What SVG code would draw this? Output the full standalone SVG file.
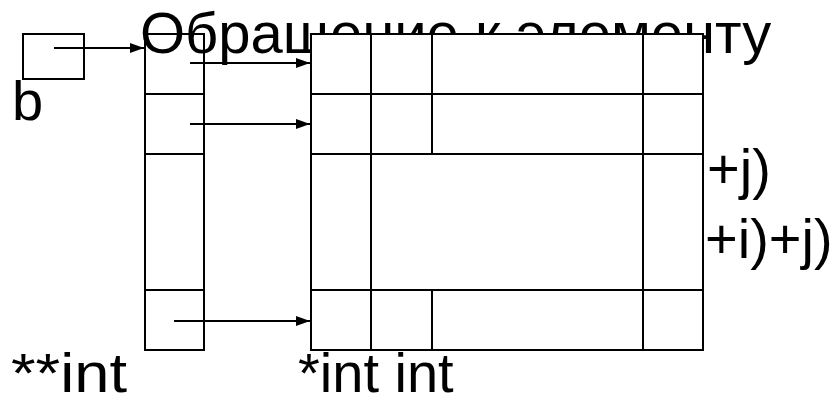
<svg xmlns="http://www.w3.org/2000/svg" width="836" height="396" viewBox="0 0 836 396">
<style>
.ln{stroke:#000;stroke-width:2;fill:none}
.cell{stroke:#000;stroke-width:2;fill:#fff}
.t{font-family:"Liberation Sans",Arial,sans-serif;font-size:56px;fill:#000}
</style>
<defs>
<marker id="ah" markerWidth="14" markerHeight="12" refX="14" refY="6" orient="auto" markerUnits="userSpaceOnUse">
<path d="M0,1 L14,6 L0,11 Z" fill="#000"/>
</marker>
</defs>
<rect width="836" height="396" fill="#fff"/>
<g id="pointer-b">
<rect class="cell" x="23" y="34" width="61" height="45"/>
</g>
<g id="row-pointers">
<rect class="ln" x="145" y="34" width="59" height="316"/>
<line class="ln" x1="145" y1="94" x2="204" y2="94"/>
<line class="ln" x1="145" y1="154" x2="204" y2="154"/>
<line class="ln" x1="145" y1="290" x2="204" y2="290"/>
</g>
<text class="t" x="140" y="53" style="font-size:58px">Обращение к элементу</text>
<g id="matrix">
<rect class="cell" x="311" y="34" width="392" height="316"/>
<line class="ln" x1="311" y1="94" x2="703" y2="94"/>
<line class="ln" x1="311" y1="154" x2="703" y2="154"/>
<line class="ln" x1="311" y1="290" x2="703" y2="290"/>
<line class="ln" x1="371" y1="34" x2="371" y2="350"/>
<line class="ln" x1="643" y1="34" x2="643" y2="350"/>
<line class="ln" x1="432" y1="34" x2="432" y2="154"/>
<line class="ln" x1="432" y1="290" x2="432" y2="350"/>
</g>
<g id="connectors">
<line class="ln" x1="54" y1="48" x2="144" y2="48" marker-end="url(#ah)"/>
<line class="ln" x1="190" y1="63" x2="310" y2="63" marker-end="url(#ah)"/>
<line class="ln" x1="190" y1="124" x2="310" y2="124" marker-end="url(#ah)"/>
<line class="ln" x1="174" y1="321" x2="310" y2="321" marker-end="url(#ah)"/>
</g>
<g id="labels">
<text class="t" x="12" y="120">b</text>
<text class="t" x="707" y="188">+j)</text>
<text class="t" x="705" y="258">+i)+j)</text>
<text class="t" x="11" y="392" textLength="116" lengthAdjust="spacingAndGlyphs">**int</text>
<text class="t" x="298" y="392">*int int</text>
</g>
</svg>
